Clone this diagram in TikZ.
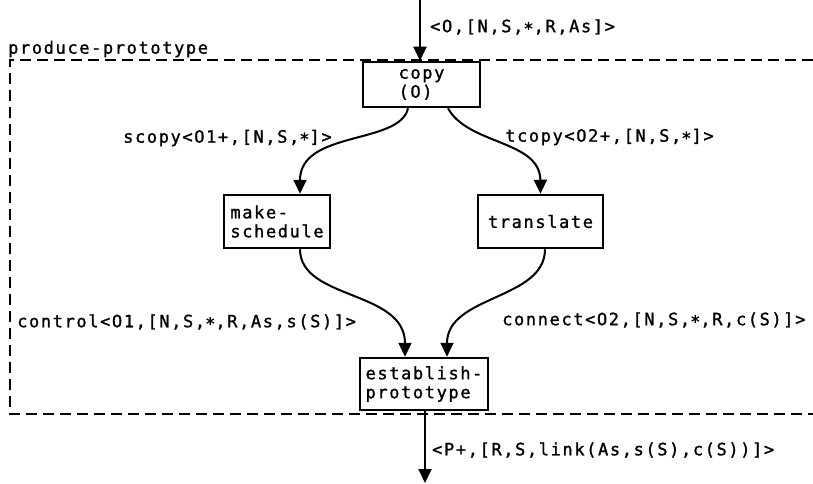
\documentclass[tikz,border=0pt]{standalone}
\usepackage{fontspec}
\newfontfamily\dmfam{DejaVu Sans Mono}[LetterSpace=9.5,FakeBold=1.2]
\newcommand\dmtext{\dmfam\fontsize{17}{19}\selectfont}
\newcommand\st{\raisebox{-2.5pt}{*}}
\usetikzlibrary{arrows.meta}
\begin{document}
\begin{tikzpicture}[x=1pt,y=-1pt,
  proc/.style={draw, line width=2.5pt, fill=white, font=\dmtext, align=left, inner sep=0pt},
  lbl/.style={font=\dmtext, anchor=west, inner sep=0pt},
  flow/.style={line width=2pt, -{Triangle[length=14pt,width=13pt]}},
  frame/.style={line width=1.8pt, dash pattern=on 11pt off 6pt}]
\useasboundingbox[fill=white] (0,0) rectangle (813,484);

% dashed boundary of produce-prototype
\coordinate (fTR) at (813,60);
\coordinate (fTL) at (10,60);
\coordinate (fBL) at (10,414);
\coordinate (fBR) at (813,414);
\draw[frame] (fTR) -- (fTL) -- (fBL) -- (fBR);
\node[lbl] (title) at (8,49) {produce-prototype};

% process boxes
\node[proc, minimum width=117pt, minimum height=45pt] (copy) at (421.5,84.5) {copy\\(O)};
\node[proc, minimum width=106pt, minimum height=53pt] (make) at (277,221.5) {make-\\schedule};
\node[proc, minimum width=125pt, minimum height=53pt] (trans) at (540.5,221.5) {translate};
\node[proc, minimum width=128pt, minimum height=52pt] (estab) at (424,384) {establish-\\prototype};

% input and output
\coordinate (inp) at (420,-2);
\coordinate (outp) at (425,483);
\draw[flow] (inp) -- (inp |- copy.north);
\draw[flow] (estab.south -| outp) -- (outp);

% internal flows
\draw[flow] ([xshift=-13.5pt]copy.south) .. controls (400,145) and (300,130) .. ([xshift=23pt]make.north);
\draw[flow] ([xshift=26.5pt]copy.south) .. controls (468,145) and (540,140) .. (trans.north);
\draw[flow] ([xshift=23pt]make.south) .. controls (300,300) and (405,290) .. ([xshift=-19pt]estab.north);
\draw[flow] ([xshift=4.5pt]trans.south) .. controls (545,300) and (447,295) .. ([xshift=23pt]estab.north);

% labels
\node[lbl] (lin) at (430,27) {<O,[N,S,\st,R,As]>};
\node[lbl] (lscopy) at (123,138) {scopy<O1+,[N,S,\st]>};
\node[lbl] (ltcopy) at (505,137) {tcopy<O2+,[N,S,\st]>};
\node[lbl] (lcontrol) at (17,322) {control<O1,[N,S,\st,R,As,s(S)]>};
\node[lbl] (lconnect) at (502,320) {connect<O2,[N,S,\st,R,c(S)]>};
\node[lbl] (lout) at (432,450) {<P+,[R,S,link(As,s(S),c(S))]>};
\end{tikzpicture}
\end{document}
